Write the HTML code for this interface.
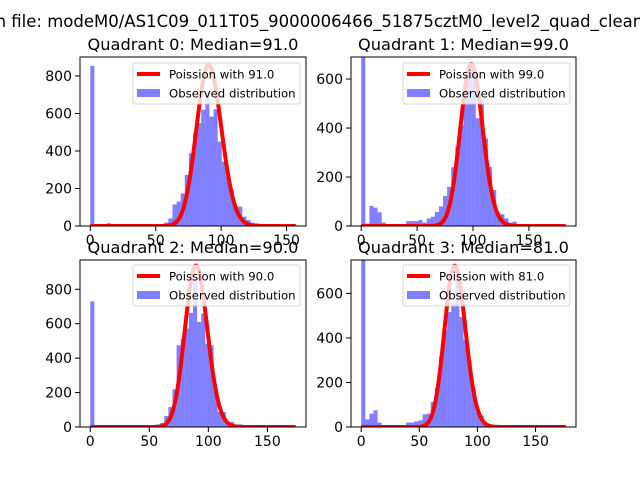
<!DOCTYPE html>
<html><head><meta charset="utf-8"><style>
html,body{margin:0;padding:0;background:#fff;}
svg{display:block;font-family:"DejaVu Sans","Liberation Sans",sans-serif;}
</style></head><body>
<svg id="fig" width="640" height="480" viewBox="0 0 640 480" xmlns="http://www.w3.org/2000/svg">
<rect width="640" height="480" fill="#fff"/>
<text x="-9" y="27" font-size="16.5" fill="#000">in file: modeM0/AS1C09_011T05_9000006466_51875cztM0_level2_quad_clean.evt</text>
</svg>
<script>
// ---- data ----
const quadrantNames = ["Quadrant 0","Quadrant 1","Quadrant 2","Quadrant 3"];
const medians = [91.0, 99.0, 90.0, 81.0];
const dataMax = [157, 183, 174, 176];
const yMax = [901, 690, 970, 750];
const poissonPeak = [858, 661, 937, 724];
const yTicks0 = [0,200,400,600,800];
const yTicks1 = [0,200,400,600];
const yTicks2 = [0,200,400,600,800];
const yTicks3 = [0,200,400,600];
const xTickLabels = [0,50,100,150];
const counts0 = [853,10,10,10,15,8,0,0,0,0,0,0,0,0,0,0,0,0,18,40,115,130,174,272,388,494,548,620,716,583,622,450,343,263,192,103,103,50,32,18,14,0,0,0,0,0,0,0,0,0];
const counts1 = [900,10,82,75,56,14,8,8,8,8,8,20,20,20,25,14,31,38,57,80,122,160,240,324,412,582,657,637,440,514,358,242,147,54,48,31,14,18,0,0,0,0,0,0,0,0,0,0,0,0];
const counts2 = [730,0,0,0,0,0,0,0,0,0,0,0,0,0,0,0,15,23,64,116,219,475,513,572,663,862,610,659,484,475,213,87,87,29,29,15,15,0,0,0,0,0,0,0,0,0,0,0,0,0];
const counts3 = [800,34,60,75,20,0,0,0,0,0,0,20,20,25,30,57,60,112,177,317,434,516,554,681,494,392,299,172,67,52,15,12,0,0,0,0,0,0,0,0,0,0,0,0,0,0,0,0,0,0];

const allCounts=[counts0,counts1,counts2,counts3];
const allYTicks=[yTicks0,yTicks1,yTicks2,yTicks3];
const boxes=[[80,57,306,226],[351,57,576,226],[80,260,306,427],[351,260,576,427]];
const NS="http://www.w3.org/2000/svg";
const svg=document.getElementById('fig');
function mk(tag,attrs,parent){const e=document.createElementNS(NS,tag);for(const k in attrs)e.setAttribute(k,attrs[k]);(parent||svg).appendChild(e);return e;}
function lnGamma(z){const g=7,c=[0.99999999999980993,676.5203681218851,-1259.1392167224028,771.32342877765313,-176.61502916214059,12.507343278686905,-0.13857109526572012,9.9843695780195716e-6,1.5056327351493116e-7];
 z-=1;let x=c[0];for(let i=1;i<g+2;i++)x+=c[i]/(z+i);const t=z+g+0.5;return 0.5*Math.log(2*Math.PI)+(z+0.5)*Math.log(t)-t+Math.log(x);}
function logPmf(k,mu){return k*Math.log(mu)-mu-lnGamma(k+1);}

for(let q=0;q<4;q++){
 const [L,T,R,B]=boxes[q];
 const g=mk('g',{});
 
 
 const span=dataMax[q], x0=-0.05*span, x1=span*1.05;
 const X=v=>L+(v-x0)/(x1-x0)*(R-L);
 const Y=v=>B-v/yMax[q]*(B-T);
 const clipId='clip'+q;
 const cp=mk('clipPath',{id:clipId},g);mk('rect',{x:L,y:T,width:R-L,height:B-T},cp);
 const plot=mk('g',{'clip-path':'url(#'+clipId+')'},g);
 const counts=allCounts[q], bw=span/counts.length;
 counts.forEach((c,i)=>{ if(c<=0)return;
   const r=mk('rect',{x:X(i*bw),y:Y(c),width:X((i+1)*bw)-X(i*bw),height:B-Y(c),fill:'#0000ff','fill-opacity':0.5},plot);
   
   
 });
 const mu=medians[q], mode=Math.floor(mu), ref=logPmf(mode,mu);
 let d='';
 for(let k=0;k<=span;k++){const v=poissonPeak[q]*Math.exp(logPmf(k,mu)-ref);d+=(k?'L':'M')+X(k).toFixed(2)+','+Y(v).toFixed(2);}
 const pl=mk('path',{d:d,fill:'none',stroke:'#ff0000','stroke-width':4,'stroke-linejoin':'round'},plot);
 
 
 const fr=mk('rect',{x:L,y:T,width:R-L,height:B-T,fill:'none',stroke:'#000','stroke-width':1},g);
 
 
 xTickLabels.forEach(v=>{
   const x=X(v);
   mk('line',{x1:x,y1:B,x2:x,y2:B+5,stroke:'#000','stroke-width':1},g);
   const t=mk('text',{x:x,y:B+19,'font-size':14,'text-anchor':'middle',fill:'#000'},g);
   t.textContent=v;
   
   
 });
 allYTicks[q].forEach(v=>{
   const y=Y(v);
   mk('line',{x1:L-5,y1:y,x2:L,y2:y,stroke:'#000','stroke-width':1},g);
   const t=mk('text',{x:L-8,y:y+5,'font-size':14,'text-anchor':'end',fill:'#000'},g);
   t.textContent=v;
   
   
 });
 const lx=(q%2===0)?133:403, ly=(q<2)?63:265;
 const lg=mk('g',{},g);
 
 
 mk('rect',{x:lx,y:ly,width:167,height:41,rx:2,fill:'#fff','fill-opacity':0.8,stroke:'#ccc','stroke-opacity':0.8,'stroke-width':1},lg);
 mk('line',{x1:lx+4,y1:ly+11,x2:lx+27,y2:ly+11,stroke:'#ff0000','stroke-width':4},lg);
 const t1=mk('text',{x:lx+36,y:ly+15.5,'font-size':11.7,fill:'#000'},lg);
 t1.textContent='Poission with '+mu.toFixed(1);
 
 
 mk('rect',{x:lx+4,y:ly+26,width:23,height:8,fill:'#0000ff','fill-opacity':0.5},lg);
 const t2=mk('text',{x:lx+36,y:ly+34.5,'font-size':11.7,fill:'#000'},lg);
 t2.textContent='Observed distribution';
 
 
 const tt=mk('text',{x:(L+R)/2,y:T-7,'font-size':16.2,'text-anchor':'middle',fill:'#000'},g);
 tt.textContent=quadrantNames[q]+': Median='+mu.toFixed(1);
 
 
}
</script>
</body></html>
